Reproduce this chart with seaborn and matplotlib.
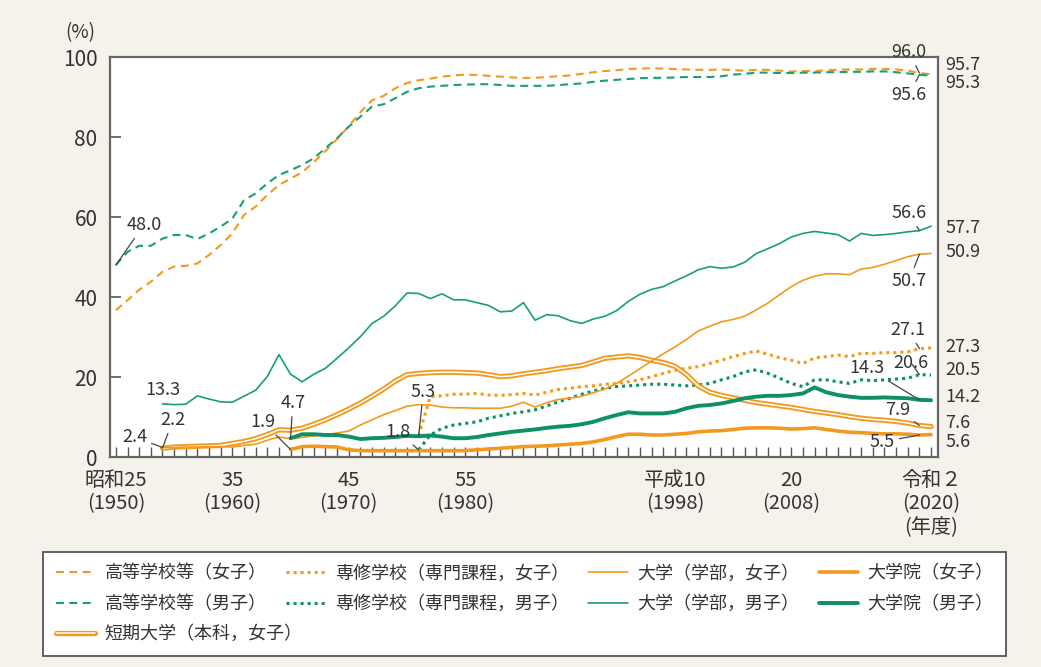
import matplotlib
matplotlib.use('Agg')
import matplotlib.pyplot as plt
import seaborn as sns
from matplotlib.lines import Line2D
from matplotlib.legend_handler import HandlerTuple

# 進学率 (%), 1 value per 年度
hs_start = 1950
hs_female = [36.7, 39.2, 41.8, 43.8, 46.3, 47.6, 47.8, 48.4, 50.5, 53.0,
             55.9, 60.5, 62.6, 65.5, 68.0, 69.6, 71.2, 73.7, 76.5, 79.5,
             82.7, 86.2, 89.2, 90.3, 92.2, 93.5, 94.2, 94.6, 95.1, 95.4,
             95.6, 95.5, 95.3, 95.1, 94.9, 94.8, 94.8, 95.0, 95.2, 95.4,
             95.8, 96.2, 96.5, 96.7, 97.0, 97.1, 97.2, 97.1, 97.0, 96.9,
             96.8, 96.8, 96.9, 96.7, 96.6, 96.8, 96.8, 96.6, 96.4, 96.5,
             96.5, 96.7, 96.8, 96.9, 96.9, 97.0, 97.0, 96.9, 96.6, 96.0,
             95.7]
hs_male = [48.0, 51.3, 52.8, 52.8, 54.6, 55.5, 55.5, 54.5, 55.9, 57.6,
           59.6, 64.2, 65.9, 68.4, 70.5, 71.7, 73.0, 74.7, 77.2, 79.7,
           82.6, 85.1, 87.6, 88.2, 89.7, 91.3, 92.2, 92.6, 92.8, 93.0,
           93.1, 93.2, 93.2, 93.0, 92.8, 92.8, 92.8, 92.8, 93.0, 93.2,
           93.4, 93.8, 94.1, 94.3, 94.5, 94.7, 94.8, 94.8, 94.9, 95.0,
           95.0, 95.0, 95.2, 95.6, 95.8, 96.1, 96.1, 96.0, 96.0, 96.1,
           96.1, 96.2, 96.2, 96.3, 96.3, 96.4, 96.4, 96.2, 95.9, 95.6,
           95.3]

univ_start = 1954
univ_male = [13.3, 13.1, 13.2, 15.3, 14.5, 13.8, 13.7, 15.2, 16.7, 20.1,
             25.6, 20.7, 18.8, 20.7, 22.2, 24.7, 27.3, 30.1, 33.4, 35.2,
             37.8, 41.0, 40.9, 39.6, 40.8, 39.3, 39.3, 38.6, 37.9, 36.3,
             36.5, 38.6, 34.2, 35.6, 35.3, 34.1, 33.4, 34.5, 35.2, 36.6,
             38.9, 40.7, 41.9, 42.6, 44.0, 45.3, 46.8, 47.6, 47.2, 47.5,
             48.7, 50.9, 52.1, 53.4, 55.0, 55.9, 56.4, 56.0, 55.6, 54.0,
             55.9, 55.4, 55.6, 55.9, 56.3, 56.6, 57.7]
univ_female = [2.4, 2.4, 2.5, 2.5, 2.6, 2.6, 2.5, 2.9, 3.2, 4.2,
               5.0, 4.6, 4.9, 5.3, 5.6, 6.0, 6.5, 8.0, 9.3, 10.6,
               11.6, 12.7, 13.1, 13.0, 12.5, 12.3, 12.3, 12.2, 12.2, 12.2,
               12.7, 13.7, 12.5, 13.6, 14.4, 14.7, 15.2, 16.1, 17.0, 18.4,
               20.2, 22.1, 24.0, 25.8, 27.5, 29.4, 31.5, 32.7, 33.8, 34.4,
               35.2, 36.8, 38.5, 40.6, 42.6, 44.2, 45.2, 45.8, 45.8, 45.6,
               47.0, 47.4, 48.2, 49.1, 50.1, 50.7, 50.9]
junior_female = [2.2, 2.5, 2.6, 2.7, 2.8, 2.9, 3.4, 3.9, 4.6, 5.6,
                 6.8, 6.7, 7.2, 8.2, 9.3, 10.6, 12.0, 13.5, 15.2, 17.0,
                 19.0, 20.6, 20.9, 21.1, 21.2, 21.2, 21.1, 21.0, 20.6, 20.1,
                 20.3, 20.8, 21.2, 21.6, 22.1, 22.5, 22.9, 23.8, 24.7, 25.0,
                 25.3, 24.9, 24.2, 23.6, 22.7, 20.6, 17.8, 16.2, 15.4, 14.8,
                 14.2, 13.6, 13.2, 12.8, 12.4, 11.9, 11.4, 11.0, 10.6, 10.1,
                 9.7, 9.4, 9.2, 8.9, 8.5, 7.9, 7.6]

grad_start = 1965
grad_male = [4.7, 5.7, 5.7, 5.5, 5.5, 5.1, 4.5, 4.7, 4.8, 5.0,
             5.3, 5.2, 5.4, 5.1, 4.7, 4.7, 5.0, 5.5, 5.9, 6.3,
             6.6, 6.9, 7.3, 7.6, 7.8, 8.2, 8.8, 9.7, 10.5, 11.2,
             10.9, 10.9, 10.9, 11.3, 12.2, 12.8, 13.0, 13.4, 14.0, 14.7,
             15.1, 15.3, 15.3, 15.5, 15.9, 17.4, 16.2, 15.5, 15.1, 14.8,
             14.8, 14.9, 14.8, 14.7, 14.3, 14.2]
grad_female = [1.9, 2.6, 2.7, 2.6, 2.5, 1.8, 1.6, 1.6, 1.6, 1.6,
               1.6, 1.6, 1.6, 1.6, 1.6, 1.6, 1.8, 2.0, 2.2, 2.4,
               2.6, 2.7, 2.8, 3.0, 3.2, 3.4, 3.8, 4.4, 5.1, 5.7,
               5.7, 5.5, 5.5, 5.7, 5.9, 6.3, 6.5, 6.6, 6.9, 7.2,
               7.3, 7.3, 7.2, 7.0, 7.1, 7.3, 6.9, 6.5, 6.2, 6.1,
               5.9, 5.8, 5.8, 5.7, 5.5, 5.6]

senshu_start = 1976
senshu_female = [5.3, 15.1, 15.3, 15.7, 15.7, 15.9, 15.5, 15.4, 15.6, 15.9,
                 15.5, 16.2, 16.9, 17.2, 17.6, 17.8, 18.2, 18.4, 18.8, 19.3,
                 20.1, 20.9, 21.7, 22.2, 22.6, 23.4, 24.2, 25.1, 25.9, 26.5,
                 25.7, 24.8, 24.2, 23.4, 24.8, 25.1, 25.5, 25.1, 25.9, 25.9,
                 26.1, 26.1, 26.3, 27.1, 27.3]
senshu_male = [1.8, 5.5, 7.2, 8.0, 8.4, 8.8, 9.7, 10.3, 10.9, 11.3,
               11.8, 12.8, 13.8, 14.7, 15.7, 16.5, 17.2, 17.6, 17.8, 18.0,
               18.2, 18.2, 18.0, 17.8, 18.0, 18.4, 19.3, 20.1, 21.3, 21.8,
               20.9, 19.7, 18.4, 17.6, 19.3, 19.3, 18.8, 18.4, 19.3, 19.1,
               19.3, 19.5, 19.7, 20.6, 20.5]

tick_years = [1950, 1960, 1970, 1980, 1998, 2008, 2020]
tick_labels = ['昭和25\n(1950)', '35\n(1960)', '45\n(1970)', '55\n(1980)',
               '平成10\n(1998)', '20\n(2008)', '令和２\n(2020)\n(年度)']

ORANGE = '#F39A1E'
GREEN = '#17A070'
GREEN_DARK = '#0E9162'
BG = '#F4F2EA'
TXT = '#333333'

sns.set_style('ticks')
plt.rcParams['font.family'] = ['Noto Sans CJK JP', 'DejaVu Sans']

fig = plt.figure(figsize=(10.41, 6.67), dpi=100, facecolor=BG)
ax = fig.add_axes([0.1057, 0.3148, 0.7954, 0.5997])
ax.set_facecolor('white')


def draw(start, vals, **kw):
    yrs = list(range(start, start + len(vals)))
    sns.lineplot(x=yrs, y=vals, ax=ax, errorbar=None, **kw)
    return ax.lines[-1]


dash = (0, (3.8, 2.6))
dot = (0, (1, 1.3))

h_hs_f = draw(hs_start, hs_female, color=ORANGE, lw=1.5, linestyle=dash)
h_hs_m = draw(hs_start, hs_male, color=GREEN, lw=1.5, linestyle=dash)
h_sen_f = draw(senshu_start, senshu_female, color=ORANGE, lw=2.2, linestyle=dot)
h_sen_m = draw(senshu_start, senshu_male, color=GREEN_DARK, lw=2.2, linestyle=dot)
h_jr_a = draw(univ_start, junior_female, color=ORANGE, lw=3.8)
h_jr_b = draw(univ_start, junior_female, color='white', lw=1.1)
h_un_f = draw(univ_start, univ_female, color=ORANGE, lw=1.2)
h_un_m = draw(univ_start, univ_male, color=GREEN, lw=1.2)
h_gr_f = draw(grad_start, grad_female, color=ORANGE, lw=2.6)
h_gr_m = draw(grad_start, grad_male, color=GREEN_DARK, lw=2.8)

ax.set_xlim(1949.5, 2020.6)
ax.set_ylim(0, 100)
ax.set_xlabel('')
ax.set_ylabel('')

ax.set_xticks(tick_years)
ax.set_xticklabels(tick_labels, fontsize=14.5, color=TXT, linespacing=1.15)
ax.set_xticks(range(1950, 2021), minor=True)
ax.tick_params(axis='x', which='both', direction='in', length=7, width=1,
               color='#555555', pad=9)
ax.set_yticks([0, 20, 40, 60, 80, 100])
ax.set_yticklabels(['0', '20', '40', '60', '80', '100'], fontsize=15,
                   color=TXT)
ax.tick_params(axis='y', direction='in', length=8, width=1.2,
               color='#555555', pad=9)
for s in ax.spines.values():
    s.set_visible(True)
    s.set_color('#666666')
    s.set_linewidth(1.6)

fig.text(80 / 1041, 1 - 33 / 667, '(%)', ha='center', va='center',
         fontsize=13.5, color=TXT)

lead = dict(arrowstyle='-', color='#444444', lw=0.9, shrinkA=1, shrinkB=0)
NUM = 13


def note(txt, pt, pos):
    ax.annotate(txt, xy=pt, xytext=pos, textcoords='data', ha='center',
                va='center', fontsize=NUM, color=TXT, arrowprops=lead,
                annotation_clip=False)


# left-hand start values
note(f'{hs_male[0]:.1f}', (1950, hs_male[0]), (1952.4, 58.0))
ax.text(1954.0, 16.8, f'{univ_male[0]:.1f}', ha='center', va='center',
        fontsize=NUM, color=TXT)
note(f'{univ_female[0]:.1f}', (1954, univ_female[0]), (1951.6, 5.0))
note(f'{junior_female[0]:.1f}', (1954, junior_female[0]), (1954.9, 9.3))
note(f'{grad_female[0]:.1f}', (1965, grad_female[0]), (1962.6, 8.8))
note(f'{grad_male[0]:.1f}', (1965, grad_male[0]), (1965.2, 13.5))
note(f'{senshu_female[0]:.1f}', (1976, senshu_female[0]), (1976.4, 16.3))
note(f'{senshu_male[0]:.1f}', (1976, senshu_male[0]), (1974.2, 6.3))

# previous year (2019) values
note(f'{hs_female[-2]:.1f}', (2019, hs_female[-2]), (2018.1, 101.2))
note(f'{hs_male[-2]:.1f}', (2019, hs_male[-2]), (2018.1, 90.5))
note(f'{univ_male[-2]:.1f}', (2019, univ_male[-2]), (2018.1, 61.0))
note(f'{univ_female[-2]:.1f}', (2019, univ_female[-2]), (2018.1, 44.0))
note(f'{senshu_female[-2]:.1f}', (2019, senshu_female[-2]), (2018.0, 31.8))
note(f'{senshu_male[-2]:.1f}', (2019, senshu_male[-2]), (2018.3, 23.5))
note(f'{grad_male[-2]:.1f}', (2019, grad_male[-2]), (2014.5, 22.3))
note(f'{junior_female[-2]:.1f}', (2019, junior_female[-2]), (2017.1, 11.8))
note(f'{grad_female[-2]:.1f}', (2019, grad_female[-2]), (2015.8, 3.8))

# latest (2020) values at the right
right = [(hs_female[-1], 98.0), (hs_male[-1], 93.5), (univ_male[-1], 57.3),
         (univ_female[-1], 51.3), (senshu_female[-1], 27.5),
         (senshu_male[-1], 21.8), (grad_male[-1], 15.0),
         (junior_female[-1], 8.6), (grad_female[-1], 3.7)]
for v, ypos in right:
    ax.text(2021.2, ypos, f'{v:.1f}', ha='left', va='center', fontsize=NUM,
            color=TXT, clip_on=False)

# legend: 4 columns x 2 rows, plus the 短期大学 entry alone in row 3
blank = Line2D([], [], color='none')
handles = [h_hs_f, h_hs_m, blank, h_sen_f, h_sen_m,
           h_un_f, h_un_m, h_gr_f, h_gr_m]
labels = ['高等学校等（女子）', '高等学校等（男子）', '　',
          '専修学校（専門課程，女子）', '専修学校（専門課程，男子）',
          '大学（学部，女子）', '大学（学部，男子）',
          '大学院（女子）', '大学院（男子）']
LEG_FS = 13
leg_kw = dict(fontsize=LEG_FS, handlelength=2.2, handletextpad=0.5)
leg = fig.legend(handles, labels, ncol=4, loc='upper left',
                 bbox_to_anchor=(43 / 1041, 12 / 667, 963 / 1041, 103 / 667),
                 mode='expand', frameon=True, fancybox=False,
                 edgecolor='#555555', facecolor='white', framealpha=1,
                 labelspacing=0.68, borderpad=0.7, borderaxespad=0,
                 columnspacing=1.2, **leg_kw)
leg.get_frame().set_linewidth(1.3)
for t in leg.get_texts():
    t.set_color(TXT)

fig.canvas.draw()
bb = leg.get_texts()[2].get_window_extent()
fs_px = LEG_FS * fig.dpi / 72
x0 = bb.x0 - (2.2 + 0.5) * fs_px
yc = (bb.y0 + bb.y1) / 2
fw, fh = fig.bbox.width, fig.bbox.height
leg2 = fig.legend([(h_jr_a, h_jr_b)], ['短期大学（本科，女子）'], loc='center left',
                  bbox_to_anchor=(x0 / fw, yc / fh), frameon=False,
                  borderpad=0, borderaxespad=0,
                  handler_map={tuple: HandlerTuple(ndivide=1)}, **leg_kw)
for t in leg2.get_texts():
    t.set_color(TXT)

fig.savefig('out.png', dpi=100, facecolor=BG)
